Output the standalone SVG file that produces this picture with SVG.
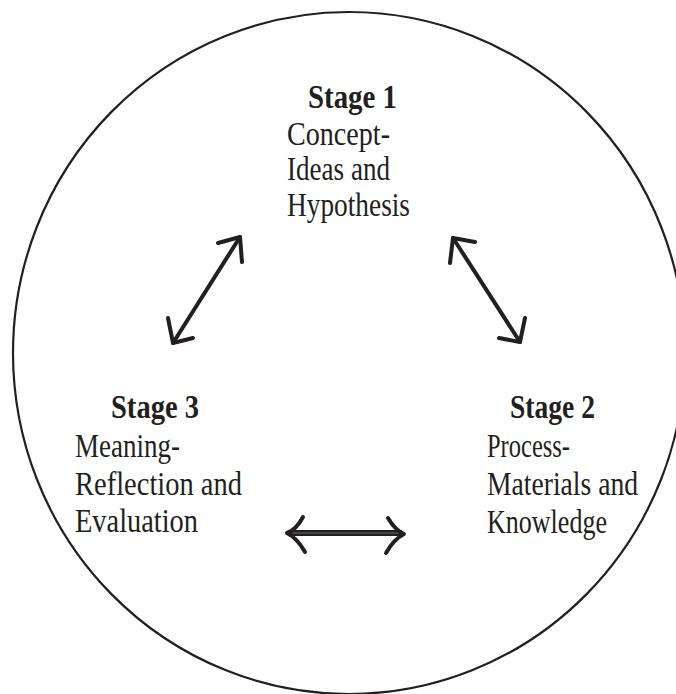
<svg xmlns="http://www.w3.org/2000/svg" width="676" height="694" viewBox="0 0 676 694">
<style>
.t{font-family:"Liberation Serif","Times New Roman",serif;font-size:34px;fill:#231f20}
.b{font-weight:bold}
.ring{fill:none;stroke:#231f20;stroke-width:2.2}
.arr{fill:none;stroke:#231f20;stroke-width:4;stroke-linecap:round;stroke-linejoin:round}
</style>
<rect width="676" height="694" fill="#ffffff"/>
<g id="boundary">
<ellipse class="ring" cx="349" cy="353" rx="336" ry="341"/>
</g>
<g id="stage1">
<text class="t b" x="308" y="108" textLength="89" lengthAdjust="spacingAndGlyphs">Stage 1</text>
<text class="t" x="287" y="145" textLength="103" lengthAdjust="spacingAndGlyphs">Concept-</text>
<text class="t" x="287" y="180" textLength="103" lengthAdjust="spacingAndGlyphs">Ideas and</text>
<text class="t" x="287" y="216" textLength="123" lengthAdjust="spacingAndGlyphs">Hypothesis</text>
</g>
<g id="stage2">
<text class="t b" x="510" y="418" textLength="85" lengthAdjust="spacingAndGlyphs">Stage 2</text>
<text class="t" x="487" y="457" textLength="83" lengthAdjust="spacingAndGlyphs">Process-</text>
<text class="t" x="487" y="495" textLength="151" lengthAdjust="spacingAndGlyphs">Materials and</text>
<text class="t" x="487" y="533" textLength="120" lengthAdjust="spacingAndGlyphs">Knowledge</text>
</g>
<g id="stage3">
<text class="t b" x="111" y="418" textLength="88" lengthAdjust="spacingAndGlyphs">Stage 3</text>
<text class="t" x="75" y="457" textLength="105" lengthAdjust="spacingAndGlyphs">Meaning-</text>
<text class="t" x="75" y="495" textLength="167" lengthAdjust="spacingAndGlyphs">Reflection and</text>
<text class="t" x="75" y="532" textLength="123" lengthAdjust="spacingAndGlyphs">Evaluation</text>
</g>
<g id="connectors">
<g id="c13">
<path class="arr" d="M240,237 L173,343"/>
<path class="arr" d="M218,243 L240,237 L242,262"/>
<path class="arr" d="M168,318 L173,343 L193,338"/>
</g>
<g id="c12">
<path class="arr" d="M453,238 L520,342"/>
<path class="arr" d="M475,242 L453,238 L450,263"/>
<path class="arr" d="M525,318 L520,342 L499,338"/>
</g>
<g id="c23">
<path d="M289,533 L402,533" fill="none" stroke="#231f20" stroke-width="6"/>
<path d="M292,533 L399,533" fill="none" stroke="#6d6a6a" stroke-width="1"/>
<path class="arr" d="M303,517 Q296,530 287,533 Q297,538 305,552"/>
<path class="arr" d="M388,518 Q395,530 404,534 Q394,539 386,553"/>
</g>
</g>
</svg>
